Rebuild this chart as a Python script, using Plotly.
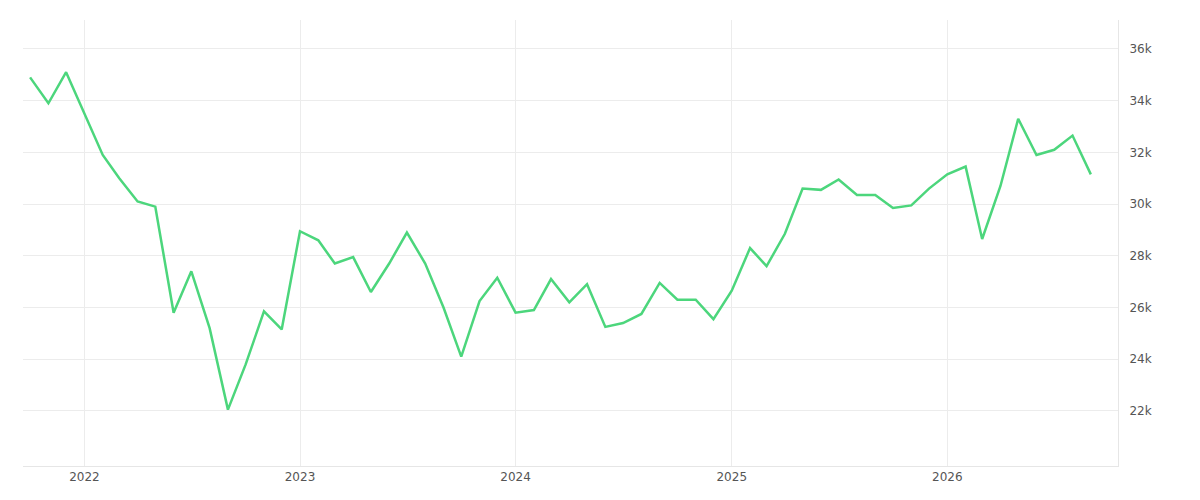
import plotly.graph_objects as go
import pandas as pd

# monthly values, Oct 2021 .. Sep 2026
dates = pd.date_range("2021-10-01", periods=60, freq="MS")
values = [
    34900, 33900, 35100,
    33500, 31900, 31000, 30100, 29900, 25800, 27400, 25200, 22050, 23800, 25850, 25150,
    28950, 28600, 27700, 27950, 26600, 27700, 28900, 27700, 26000, 24100, 26250, 27150,
    25800, 25900, 27100, 26200, 26900, 25250, 25400, 25750, 26950, 26300, 26300, 25550,
    26650, 28300, 27600, 28850, 30600, 30550, 30950, 30350, 30350, 29850, 29950, 30600,
    31150, 31450, 28650, 30700, 33300, 31900, 32100, 32650, 31150,
]
year_ticks = ["2022-01-01", "2023-01-01", "2024-01-01", "2025-01-01", "2026-01-01"]
year_labels = ["2022", "2023", "2024", "2025", "2026"]

fig = go.Figure()
fig.add_trace(go.Scatter(x=dates, y=values, mode="lines",
                         line=dict(color="#4cd67c", width=2.5)))

fig.update_layout(
    width=1200, height=500,
    margin=dict(l=15, r=90, t=12, b=42),
    plot_bgcolor="white", paper_bgcolor="white",
    showlegend=False,
    font=dict(family="DejaVu Sans", size=12, color="#555"),
)
fig.update_xaxes(
    range=["2021-09-19", "2026-10-17"],
    tickvals=year_ticks, ticktext=year_labels,
    showgrid=True, gridcolor="#ececec",
    showline=True, linecolor="#e6e6e6", zeroline=False,
)
fig.update_yaxes(
    side="right", range=[19870, 37120],
    tickvals=list(range(22000, 36001, 2000)),
    showgrid=True, gridcolor="#ececec",
    showline=True, linecolor="#e6e6e6", zeroline=False,
    ticks="", ticklabelstandoff=8,
)

fig.write_html("out.html")
